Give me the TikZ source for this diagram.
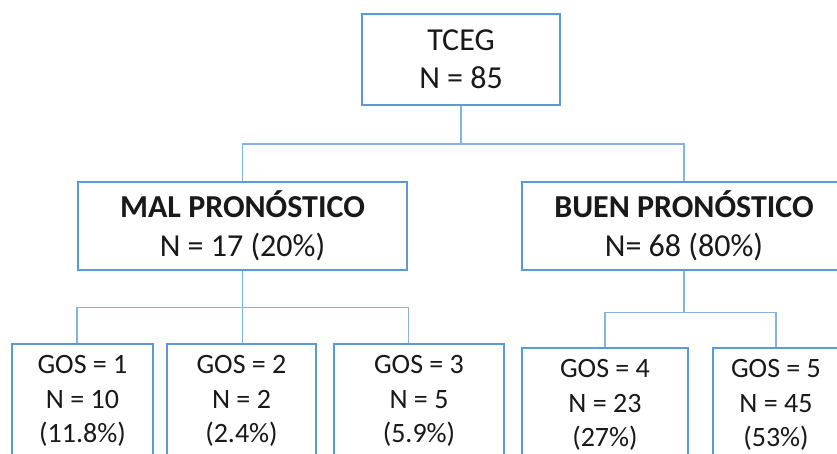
\documentclass[tikz,border=0pt]{standalone}
\usepackage{fontspec}
\setmainfont{Carlito}
\definecolor{boxblue}{HTML}{5B9BD5}
\definecolor{linkblue}{HTML}{86B4E2}

\begin{document}
\begin{tikzpicture}[x=1pt,y=-1pt]
      \tikzstyle{box}=[draw=boxblue,line width=2.5pt,fill=white,align=center,inner sep=0pt,text=black!90]
      \tikzstyle{root box}=[box,font=\fontsize{32}{38}\selectfont,minimum width=198pt,minimum height=91pt]
      \tikzstyle{group box}=[box,font=\fontsize{32}{39}\selectfont,minimum height=88pt]
      \tikzstyle{gos box}=[box,font=\fontsize{28}{34.5}\selectfont,minimum height=114pt]
      \tikzstyle{link}=[draw=linkblue,line width=1.5pt]

      \useasboundingbox (0,0) rectangle (837,454);
      \clip (0,0) rectangle (837,454);

      % Draw the root node
      \node[root box] (tceg) at (461,59.5) {TCEG\\N = 85};

      % Draw the two prognosis groups
      \node[group box,minimum width=329pt] (mal) at (242.5,226)
          {\textbf{MAL PRONÓSTICO}\\N = 17 (20\%)};
      \node[group box,minimum width=324pt] (buen) at (684,226)
          {\textbf{BUEN PRONÓSTICO}\\N= 68 (80\%)};

      % Draw the GOS nodes
      % \name / x / y / width / N / percent
      \foreach \name / \x / \y / \w / \n / \pct in
          {1/82.5/401/141/10/11.8, 2/241.5/401/149/2/2.4, 3/419/401/170/5/5.9,
           4/605/405/166/23/27, 5/776/405/126/45/53}
          \node[gos box,minimum width=\w pt] (gos-\name) at (\x,\y)
              {GOS = \name\\N = \n\\(\pct\%)};

      % Connect the root with both groups
      \foreach \dest in {mal,buen}
          \draw[link] (tceg.south) -- ++(0,38) -| (\dest.north);

      % Connect the bad prognosis group with GOS 1 to 3
      \draw[link] (mal.south) -- ++(0,36) coordinate (mal-bus);
      \draw[link] (mal.south west |- mal-bus) -- (mal.south east |- mal-bus);
      \draw[link] (mal.south west |- mal-bus) -- (mal.south west |- gos-1.north);
      \draw[link] (mal-bus) -- (mal-bus |- gos-2.north);
      \draw[link] (mal.south east |- mal-bus) -- (mal.south east |- gos-3.north);

      % Connect the good prognosis group with GOS 4 and 5
      \foreach \dest in {4,5}
          \draw[link] (buen.south) -- ++(0,41) -| (gos-\dest.north);
  \end{tikzpicture}
\end{document}
